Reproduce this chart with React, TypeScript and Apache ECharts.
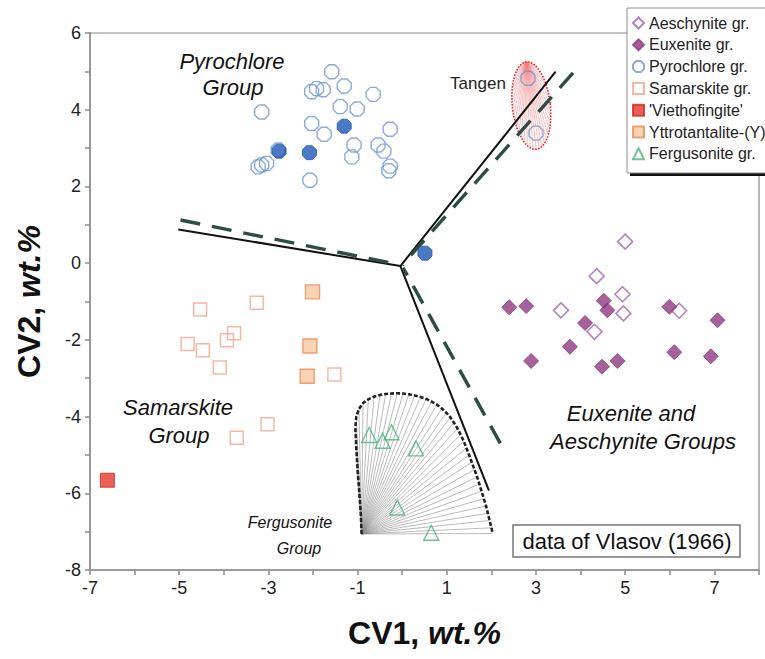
import React, { useEffect, useRef } from 'react';
import * as echarts from 'echarts';

// ---------- data (CV1, CV2) ----------
const AESCHYNITE: [number, number][] = [
  [5.0, 0.56], [4.36, -0.34], [4.94, -0.81], [3.56, -1.23], [4.96, -1.31], [6.21, -1.24], [4.31, -1.79],
];
const EUXENITE: [number, number][] = [
  [2.4, -1.15], [2.78, -1.12], [4.52, -0.98], [4.6, -1.23], [4.1, -1.56], [5.99, -1.14], [7.07, -1.49],
  [3.76, -2.18], [2.89, -2.55], [6.1, -2.32], [6.92, -2.43], [4.83, -2.55], [4.48, -2.7],
];
const PYROCHLORE: [number, number][] = [
  [-1.58, 4.99], [-2.03, 4.47], [-1.92, 4.55], [-1.77, 4.52], [-1.3, 4.62], [-0.65, 4.4], [-3.15, 3.94],
  [-1.39, 4.08], [-1.01, 4.02], [-2.03, 3.64], [-1.75, 3.36], [-0.27, 3.49], [-1.08, 3.08], [-0.54, 3.08],
  [-0.41, 2.92], [-1.13, 2.77], [-0.27, 2.53], [-0.3, 2.41], [-3.04, 2.6], [-3.23, 2.51], [-3.15, 2.56],
  [-2.78, 2.95], [-2.07, 2.16], [2.82, 4.82], [3.0, 3.39],
];
const PYROCHLORE_FILLED: [number, number][] = [
  [-2.76, 2.92], [-2.08, 2.88], [-1.3, 3.57], [0.51, 0.26],
];
const SAMARSKITE: [number, number][] = [
  [-4.53, -1.21], [-3.26, -1.03], [-3.77, -1.83], [-3.93, -2.01], [-4.81, -2.11], [-4.47, -2.27],
  [-4.09, -2.72], [-1.52, -2.9], [-3.02, -4.2], [-3.71, -4.55],
];
const VIETHOFINGITE: [number, number][] = [[-6.61, -5.66]];
const YTTROTANTALITE: [number, number][] = [[-2.01, -0.75], [-2.07, -2.16], [-2.13, -2.95]];
const FERGUSONITE: [number, number][] = [
  [-0.74, -4.48], [-0.44, -4.63], [-0.24, -4.41], [0.31, -4.83], [-0.11, -6.37], [0.65, -7.03],
];

// Fergusonite field (fan origin and dashed boundary)
const FERG_ORIGIN: [number, number] = [-0.91, -7.06];
const FERG_BOUNDARY: [number, number][] = [
  [-0.91, -7.06], [-0.93, -6.5], [-0.96, -6.0], [-1.0, -5.4], [-1.03, -4.8], [-1.05, -4.3], [-1.03, -4.0],
  [-0.97, -3.8], [-0.88, -3.65], [-0.76, -3.55], [-0.63, -3.48], [-0.5, -3.44], [-0.37, -3.41],
  [-0.24, -3.4], [-0.11, -3.39], [0.02, -3.4], [0.15, -3.42], [0.28, -3.45], [0.41, -3.49], [0.54, -3.54],
  [0.66, -3.61], [0.78, -3.69], [0.89, -3.79], [0.99, -3.9], [1.08, -4.02], [1.16, -4.16], [1.24, -4.31],
  [1.31, -4.47], [1.38, -4.64], [1.44, -4.82], [1.5, -5.0], [1.56, -5.19], [1.62, -5.38], [1.68, -5.57],
  [1.73, -5.76], [1.78, -5.95], [1.83, -6.14], [1.88, -6.33], [1.92, -6.52], [1.96, -6.71], [2.0, -6.9],
  [2.03, -7.05],
];

// Tangen field (ellipse centre, semi-axes in data units, tilt)
const TANGEN_CENTER: [number, number] = [2.895, 4.106];
const TANGEN_RADII: [number, number] = [0.425, 1.147];
const TANGEN_TILT_DEG = -6.5;

// Discriminant vectors
const VECTORS_SOLID: [number, number][][] = [
  [[-5.02, 0.88], [-0.04, -0.076]],
  [[3.44, 4.99], [-0.04, -0.076]],
  [[1.945, -5.93], [-0.04, -0.076]],
];
const VECTORS_DASHED: [number, number][][] = [
  [[-4.97, 1.124], [-0.1, -0.03]],
  [[3.83, 4.96], [0.0, -0.05]],
  [[2.2, -4.7], [0.02, -0.12]],
];

const LEGEND_NAMES = [
  'Aeschynite gr.', 'Euxenite gr.', 'Pyrochlore gr.', 'Samarskite gr.', "'Viethofingite'",
  'Yttrotantalite-(Y)', 'Fergusonite gr.',
];

const FONT = 'Liberation Sans, Arial, sans-serif';
const OCTAGON = 'path://M2.93,0 L7.07,0 L10,2.93 L10,7.07 L7.07,10 L2.93,10 L0,7.07 L0,2.93 Z';
const AXIS_COLOR = '#8c8c8c';

export default function App() {
  const ref = useRef<HTMLDivElement>(null);
  useEffect(() => {
    if (!ref.current) return;
    const chart = echarts.init(ref.current, undefined, { renderer: 'svg' });

    const fanSeries: any = {
      type: 'custom',
      coordinateSystem: 'cartesian2d',
      silent: true,
      encode: { x: 0, y: 1 },
      data: FERG_BOUNDARY,
      z: 1,
      renderItem: (_p: any, api: any) => {
        const o = api.coord(FERG_ORIGIN);
        const p = api.coord([api.value(0), api.value(1)]);
        return {
          type: 'line',
          shape: { x1: o[0], y1: o[1], x2: p[0], y2: p[1] },
          style: { stroke: '#8d8d8d', lineWidth: 0.6 },
        };
      },
    };

    const tangenSeries: any = {
      type: 'custom',
      coordinateSystem: 'cartesian2d',
      silent: true,
      encode: { x: 0, y: 1 },
      data: [TANGEN_CENTER],
      z: 1,
      renderItem: (_p: any, api: any) => {
        const c = api.coord([api.value(0), api.value(1)]);
        const s = api.size([TANGEN_RADII[0], TANGEN_RADII[1]]);
        const rx = Math.abs(s[0]);
        const ry = Math.abs(s[1]);
        const th = (TANGEN_TILT_DEG * Math.PI) / 180;
        const pt = (t: number) => {
          const lx = rx * Math.cos(t);
          const ly = ry * Math.sin(t);
          return [c[0] + lx * Math.cos(th) - ly * Math.sin(th), c[1] + lx * Math.sin(th) + ly * Math.cos(th)];
        };
        const outline: number[][] = [];
        for (let i = 0; i < 90; i++) outline.push(pt((i / 90) * 2 * Math.PI));
        const apex = pt(-Math.PI / 2);
        const children: any[] = [];
        for (let i = 1; i < 40; i++) {
          const p = pt(-Math.PI / 2 + (i / 40) * 2 * Math.PI);
          children.push({
            type: 'line',
            shape: { x1: apex[0], y1: apex[1], x2: p[0], y2: p[1] },
            style: { stroke: '#f47a7a', lineWidth: 0.5 },
          });
        }
        children.push({
          type: 'polygon',
          shape: { points: outline },
          style: { fill: 'none', stroke: '#ee1f1f', lineWidth: 1.6, lineDash: [1.5, 1.5] },
        });
        return { type: 'group', children };
      },
    };

    const lineSeries = (seg: [number, number][], dashed: boolean) => ({
      type: 'line',
      data: seg,
      symbol: 'none',
      silent: true,
      z: 3,
      lineStyle: dashed
        ? { color: '#2d4b47', width: 3.4, type: [20, 12] }
        : { color: '#111111', width: 2 },
    });

    const scatter = (name: string, data: [number, number][], symbol: string, size: number, itemStyle: any) => ({
      name,
      type: 'scatter',
      data,
      symbol,
      symbolSize: size,
      itemStyle,
      z: 4,
    });

    const titleRich = {
      a: { fontSize: 32, fontWeight: 'bold', fontFamily: FONT, color: '#111' },
      b: { fontSize: 32, fontWeight: 'bold', fontStyle: 'italic', fontFamily: FONT, color: '#111' },
    };

    chart.setOption({
      animation: false,
      backgroundColor: '#ffffff',
      grid: {
        left: 90, right: 6, top: 33, bottom: 89,
        show: true, borderColor: AXIS_COLOR, borderWidth: 1.2, backgroundColor: 'transparent',
      },
      xAxis: {
        type: 'value', min: -7, max: 8, interval: 1,
        axisLine: { show: true, onZero: false, lineStyle: { color: AXIS_COLOR, width: 1.5 } },
        axisTick: { show: true, length: 5, lineStyle: { color: AXIS_COLOR, width: 1.5 } },
        splitLine: { show: false },
        axisLabel: {
          formatter: (v: number) => (Math.abs(v) % 2 === 1 ? String(v) : ''),
          fontSize: 18, color: '#222', fontFamily: FONT, margin: 9,
        },
        name: '{a|CV1,\u00a0}{b|wt.%}',
        nameLocation: 'middle',
        nameGap: 47,
        nameTextStyle: { rich: titleRich },
      },
      yAxis: {
        type: 'value', min: -8, max: 6, interval: 1,
        axisLine: { show: true, onZero: false, lineStyle: { color: AXIS_COLOR, width: 1.5 } },
        axisTick: { show: true, length: 5, lineStyle: { color: AXIS_COLOR, width: 1.5 } },
        splitLine: { show: false },
        axisLabel: {
          formatter: (v: number) => (Math.abs(v) % 2 === 0 ? String(v) : ''),
          fontSize: 18, color: '#222', fontFamily: FONT, margin: 9,
        },
        name: '{a|CV2,\u00a0}{b|wt.%}',
        nameLocation: 'middle',
        nameGap: 45,
        nameTextStyle: { rich: titleRich },
      },
      legend: {
        data: LEGEND_NAMES,
        orient: 'vertical',
        left: 627,
        top: 10,
        padding: 5,
        itemWidth: 11,
        itemHeight: 11,
        itemGap: 5.8,
        selectedMode: false,
        z: 10,
        textStyle: { fontSize: 16, color: '#222', fontFamily: FONT, lineHeight: 15 },
      },
      graphic: [
        { type: 'rect', z: 5, shape: { x: 630, y: 11, width: 150, height: 165 }, style: { fill: '#111' } },
        { type: 'rect', z: 6, shape: { x: 627, y: 8, width: 150, height: 165 }, style: { fill: '#fff', stroke: '#8c8c8c', lineWidth: 1 } },
        { type: 'text', z: 6, x: 232, y: 61, style: { text: 'Pyrochlore', fontSize: 22, fontStyle: 'italic', fontFamily: FONT, fill: '#111', align: 'center', verticalAlign: 'middle' } },
        { type: 'text', z: 6, x: 233, y: 87, style: { text: 'Group', fontSize: 22, fontStyle: 'italic', fontFamily: FONT, fill: '#111', align: 'center', verticalAlign: 'middle' } },
        { type: 'text', z: 6, x: 178, y: 407, style: { text: 'Samarskite', fontSize: 22, fontStyle: 'italic', fontFamily: FONT, fill: '#111', align: 'center', verticalAlign: 'middle' } },
        { type: 'text', z: 6, x: 179, y: 435, style: { text: 'Group', fontSize: 22, fontStyle: 'italic', fontFamily: FONT, fill: '#111', align: 'center', verticalAlign: 'middle' } },
        { type: 'text', z: 6, x: 631, y: 413, style: { text: 'Euxenite and', fontSize: 22, fontStyle: 'italic', fontFamily: FONT, fill: '#111', align: 'center', verticalAlign: 'middle' } },
        { type: 'text', z: 6, x: 643, y: 441, style: { text: 'Aeschynite Groups', fontSize: 22, fontStyle: 'italic', fontFamily: FONT, fill: '#111', align: 'center', verticalAlign: 'middle' } },
        { type: 'text', z: 6, x: 478, y: 83, style: { text: 'Tangen', fontSize: 17, fontFamily: FONT, fill: '#222', align: 'center', verticalAlign: 'middle' } },
        { type: 'text', z: 6, x: 290, y: 522, style: { text: 'Fergusonite', fontSize: 16, fontStyle: 'italic', fontFamily: FONT, fill: '#111', align: 'center', verticalAlign: 'middle' } },
        { type: 'text', z: 6, x: 299, y: 548, style: { text: 'Group', fontSize: 16, fontStyle: 'italic', fontFamily: FONT, fill: '#111', align: 'center', verticalAlign: 'middle' } },
        { type: 'rect', z: 6, shape: { x: 513, y: 525, width: 227, height: 32 }, style: { fill: '#fff', stroke: '#777', lineWidth: 1.5 } },
        { type: 'text', z: 7, x: 627, y: 541, style: { text: 'data of Vlasov (1966)', fontSize: 22, fontFamily: FONT, fill: '#111', align: 'center', verticalAlign: 'middle' } },
      ],
      series: [
        fanSeries,
        {
          type: 'line', data: FERG_BOUNDARY, symbol: 'none', silent: true, z: 2,
          lineStyle: { color: '#222', width: 2.6, type: [4, 2] },
        },
        tangenSeries,
        ...VECTORS_SOLID.map((s) => lineSeries(s, false)),
        ...VECTORS_DASHED.map((s) => lineSeries(s, true)),
        scatter('Aeschynite gr.', AESCHYNITE, 'diamond', 15, { color: 'rgba(255,255,255,0)', borderColor: '#a462b2', borderWidth: 1.6 }),
        scatter('Euxenite gr.', EUXENITE, 'diamond', 15, { color: '#8f3b81', borderColor: '#8f3b81', borderWidth: 1 }),
        scatter('Pyrochlore gr.', PYROCHLORE, OCTAGON, 14, { color: 'rgba(255,255,255,0)', borderColor: '#6f93d8', borderWidth: 1.4 }),
        scatter('Pyrochlore (filled)', PYROCHLORE_FILLED, OCTAGON, 14, { color: '#1f57b5', borderColor: '#1f57b5', borderWidth: 1 }),
        scatter('Samarskite gr.', SAMARSKITE, 'rect', 13, { color: 'rgba(255,255,255,0)', borderColor: '#f5a58b', borderWidth: 1.5 }),
        scatter("'Viethofingite'", VIETHOFINGITE, 'rect', 14, { color: '#e8372a', borderColor: '#c52a20', borderWidth: 1 }),
        scatter('Yttrotantalite-(Y)', YTTROTANTALITE, 'rect', 14, { color: '#f9c8a2', borderColor: '#ef8a55', borderWidth: 1.4 }),
        scatter('Fergusonite gr.', FERGUSONITE, 'triangle', 15, { color: 'rgba(255,255,255,0)', borderColor: '#4db27a', borderWidth: 1.4 }),
      ],
    });
    return () => chart.dispose();
  }, []);
  return <div ref={ref} style={{ position: 'fixed', left: 0, top: 0, width: 765, height: 659 }} />;
}
